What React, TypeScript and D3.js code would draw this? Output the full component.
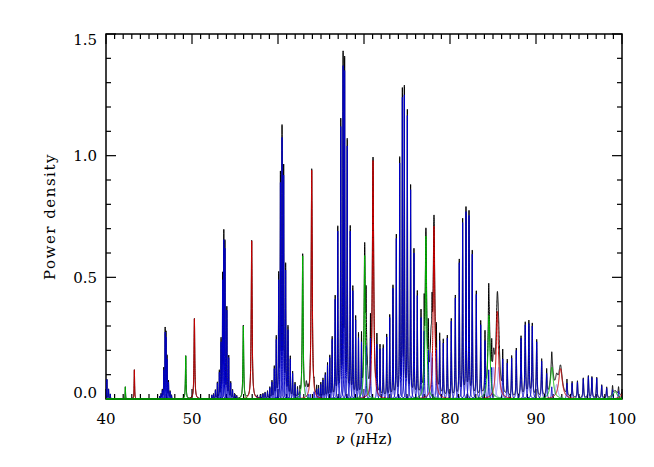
import React, { useMemo } from "react";
import * as d3 from "d3";

// ---------- data ----------
const X_DOMAIN: [number, number] = [40, 100];
const Y_DOMAIN: [number, number] = [0, 1.5];
const X_TICKS = [40, 50, 60, 70, 80, 90, 100];
const Y_TICKS = [0, 0.5, 1.0, 1.5];
const X_TICK_LABELS = ["40", "50", "60", "70", "80", "90", "100"];
const Y_TICK_LABELS = ["0.0", "0.5", "1.0", "1.5"];

// radial (l=0) modes: [frequency µHz, height, half width µHz]
const l0Modes: [number, number, number][] = [
  [43.3, 0.12, 0.03], [50.28, 0.33, 0.05], [56.94, 0.65, 0.06], [63.92, 0.94, 0.07],
  [71.05, 0.98, 0.09], [78.14, 0.71, 0.11], [85.5, 0.36, 0.16], [92.85, 0.125, 0.25],
  [100.2, 0.03, 0.3],
];

// quadrupole (l=2) modes
const l2Modes: [number, number, number][] = [
  [42.25, 0.05, 0.025], [49.27, 0.177, 0.04], [55.97, 0.30, 0.05], [62.87, 0.588, 0.06],
  [70.08, 0.59, 0.08], [77.2, 0.67, 0.1], [84.53, 0.345, 0.14], [91.85, 0.13, 0.2],
  [99.2, 0.03, 0.3],
];

// octupole (l=3) modes
const l3Modes: [number, number, number][] = [
  [63.3, 0.05, 0.1], [70.3, 0.14, 0.12], [77.8, 0.19, 0.14], [85.08, 0.13, 0.14],
  [85.66, 0.13, 0.14], [92.4, 0.06, 0.18],
];

// dipole (l=1) mixed modes
const l1Modes: [number, number, number][] = [
  [39.85, 0.04, 0.025], [40.1, 0.08, 0.025], [40.3, 0.04, 0.025], [40.5, 0.02, 0.025],
  [46.25, 0.01, 0.025], [46.4, 0.02, 0.025], [46.55, 0.035, 0.025], [46.72, 0.12, 0.025],
  [46.88, 0.275, 0.025], [46.98, 0.255, 0.025], [47.1, 0.165, 0.025], [47.27, 0.07, 0.025],
  [47.45, 0.03, 0.025], [47.62, 0.015, 0.025],
  [52.3, 0.015, 0.025], [52.5, 0.02, 0.025], [52.72, 0.035, 0.025], [52.95, 0.065, 0.025],
  [53.18, 0.11, 0.025], [53.38, 0.235, 0.025], [53.56, 0.49, 0.025], [53.7, 0.655, 0.025],
  [53.83, 0.62, 0.025], [54.05, 0.365, 0.025], [54.27, 0.17, 0.025], [54.5, 0.066, 0.025],
  [54.72, 0.035, 0.025], [54.95, 0.02, 0.025], [55.2, 0.012, 0.025],
  [57.6, 0.01, 0.03], [57.95, 0.015, 0.03], [58.25, 0.02, 0.03],
  [58.5, 0.025, 0.03], [58.78, 0.03, 0.03], [59.05, 0.045, 0.03], [59.3, 0.07, 0.03],
  [59.57, 0.125, 0.03], [59.8, 0.245, 0.03], [60.08, 0.49, 0.03], [60.28, 0.89, 0.03],
  [60.47, 1.075, 0.03], [60.66, 0.92, 0.03], [60.89, 0.53, 0.03], [61.16, 0.285, 0.03],
  [61.43, 0.165, 0.03], [61.7, 0.105, 0.03], [61.98, 0.06, 0.03], [62.27, 0.04, 0.03],
  [62.55, 0.03, 0.03], [63.5, 0.02, 0.03],
  [63.75, 0.02, 0.03], [64.2, 0.03, 0.03], [64.5, 0.04, 0.03], [64.72, 0.045, 0.03],
  [64.98, 0.06, 0.03], [65.23, 0.078, 0.03], [65.5, 0.1, 0.03], [65.76, 0.14, 0.03],
  [66.02, 0.17, 0.03], [66.3, 0.245, 0.03], [66.65, 0.41, 0.03], [66.95, 0.69, 0.03],
  [67.3, 1.12, 0.03], [67.57, 1.37, 0.03], [67.75, 1.35, 0.03], [68.05, 1.04, 0.03],
  [68.4, 0.69, 0.03], [68.7, 0.445, 0.03], [69.03, 0.325, 0.03], [69.36, 0.252, 0.03],
  [69.71, 0.235, 0.03], [70.24, 0.22, 0.03], [70.75, 0.25, 0.03],
  [71.5, 0.225, 0.03], [71.86, 0.205, 0.03], [72.24, 0.21, 0.03], [72.64, 0.255, 0.03],
  [72.99, 0.335, 0.03], [73.37, 0.455, 0.03], [73.76, 0.66, 0.03], [74.15, 0.97, 0.03],
  [74.46, 1.24, 0.03], [74.69, 1.25, 0.03], [75.04, 1.165, 0.03], [75.42, 0.86, 0.03],
  [75.81, 0.6, 0.03], [76.2, 0.425, 0.03], [76.63, 0.335, 0.03], [77.0, 0.28, 0.03],
  [77.48, 0.2, 0.035], [77.92, 0.17, 0.035], [78.42, 0.2, 0.035],
  [78.8, 0.24, 0.035], [79.22, 0.23, 0.035], [79.69, 0.25, 0.035], [80.15, 0.32, 0.035],
  [80.62, 0.415, 0.035], [81.08, 0.56, 0.035], [81.47, 0.725, 0.035], [81.86, 0.77, 0.035],
  [82.21, 0.755, 0.035], [82.59, 0.595, 0.035], [83.06, 0.43, 0.035], [83.57, 0.305, 0.035],
  [84.07, 0.24, 0.035], [84.5, 0.12, 0.035], [84.85, 0.13, 0.035],
  [86.13, 0.165, 0.04], [86.66, 0.148, 0.04], [87.17, 0.168, 0.04], [87.71, 0.2, 0.04],
  [88.26, 0.25, 0.05], [88.75, 0.305, 0.05], [89.17, 0.31, 0.05], [89.57, 0.3, 0.05],
  [90.08, 0.235, 0.05], [90.66, 0.155, 0.05], [91.24, 0.105, 0.05], [91.83, 0.05, 0.05],
  [93.6, 0.065, 0.05], [94.2, 0.065, 0.05], [94.82, 0.07, 0.05], [95.5, 0.083, 0.05],
  [96.09, 0.092, 0.05], [96.5, 0.088, 0.05], [97.06, 0.086, 0.05], [97.64, 0.055, 0.05],
  [98.22, 0.045, 0.05], [98.9, 0.038, 0.05], [99.6, 0.033, 0.05],
];

// ---------- layout ----------
const W = 654;
const H = 467;
const PLOT = { left: 106, top: 34, right: 622, bottom: 399 };
const FONT = "'DejaVu Serif', serif";

type Mode = [number, number, number];
const lor = (nu: number, m: Mode) => {
  const d = (nu - m[0]) / m[2];
  return m[1] / (1 + d * d);
};

function gridAround(lo: number, hi: number, step: number, centers: number[]) {
  const pts: number[] = [];
  const n = Math.round((hi - lo) / step);
  for (let i = 0; i <= n; i++) pts.push(lo + i * step);
  centers.forEach((c) => { if (c >= lo && c <= hi) pts.push(c); });
  return pts.sort((a, b) => a - b);
}

export default function App() {
  const x = d3.scaleLinear().domain(X_DOMAIN).range([PLOT.left, PLOT.right]);
  const y = d3.scaleLinear().domain(Y_DOMAIN).range([PLOT.bottom, PLOT.top]);
  const line = d3.line<[number, number]>().x((d) => x(d[0])).y((d) => y(d[1]));

  const paths = useMemo(() => {
    const all: Mode[] = [...l0Modes, ...l1Modes, ...l2Modes, ...l3Modes];
    const fullGrid = gridAround(39.5, 100.5, 0.004, all.map((m) => m[0]));
    const total = line(fullGrid.map((nu) => [nu, all.reduce((s, m) => s + lor(nu, m), 0)] as [number, number])) || "";
    const local = (m: Mode, span: number) => {
      const g = gridAround(m[0] - span, m[0] + span, 0.004, [m[0]]);
      return line(g.map((nu) => [nu, lor(nu, m)] as [number, number])) || "";
    };
    const full = (m: Mode) => line(fullGrid.map((nu) => [nu, lor(nu, m)] as [number, number])) || "";
    return {
      total,
      l1: l1Modes.map((m) => local(m, 3)),
      l3: l3Modes.map((m) => local(m, 4)),
      l0: l0Modes.map(full),
      l2: l2Modes.map(full),
    };
  }, []);

  const xMinor = d3.range(40, 101, 1);
  const yMinor = d3.range(0, 1.5001, 0.1);

  return (
    <svg width={W} height={H} style={{ position: "absolute", left: 0, top: 0, background: "#fff" }}>
      <defs>
        <clipPath id="plotclip">
          <rect x={PLOT.left} y={PLOT.top - 1} width={PLOT.right - PLOT.left} height={PLOT.bottom - PLOT.top + 2} />
        </clipPath>
      </defs>
      {/* frame */}
      <rect x={PLOT.left} y={PLOT.top} width={PLOT.right - PLOT.left} height={PLOT.bottom - PLOT.top}
        fill="none" stroke="#000" strokeWidth={1.5} />
      {/* ticks */}
      {xMinor.map((v) => {
        const major = v % 10 === 0;
        const len = major ? 10 : 5;
        return (
          <g key={"xt" + v}>
            <line x1={x(v)} x2={x(v)} y1={PLOT.bottom} y2={PLOT.bottom - len} stroke="#000" strokeWidth={1.2} />
            <line x1={x(v)} x2={x(v)} y1={PLOT.top} y2={PLOT.top + len} stroke="#000" strokeWidth={1.2} />
          </g>
        );
      })}
      {yMinor.map((v, i) => {
        const major = i % 5 === 0;
        const len = major ? 10 : 5;
        return (
          <g key={"yt" + i}>
            <line x1={PLOT.left} x2={PLOT.left + len} y1={y(v)} y2={y(v)} stroke="#000" strokeWidth={1.2} />
            <line x1={PLOT.right} x2={PLOT.right - len} y1={y(v)} y2={y(v)} stroke="#000" strokeWidth={1.2} />
          </g>
        );
      })}
      {/* curves */}
      <g clipPath="url(#plotclip)" fill="none" strokeWidth={1}>
        <path d={paths.total} stroke="#000" />
        {paths.l1.map((d, i) => <path key={"b" + i} d={d} stroke="#0000c8" />)}
        {paths.l3.map((d, i) => <path key={"c" + i} d={d} stroke="#9a9aff" />)}
        {paths.l0.map((d, i) => <path key={"r" + i} d={d} stroke="#c80000" />)}
        {paths.l2.map((d, i) => <path key={"g" + i} d={d} stroke="#00b400" />)}
      </g>
      {/* tick labels */}
      {X_TICKS.map((v, i) => (
        <text key={"xl" + v} x={x(v)} y={PLOT.bottom + 25} textAnchor="middle" fontFamily={FONT} fontSize={15} fill="#000">
          {X_TICK_LABELS[i]}
        </text>
      ))}
      {Y_TICKS.map((v, i) => {
        const yy = Math.min(Math.max(y(v), PLOT.top + 6), PLOT.bottom - 6);
        return (
          <text key={"yl" + v} x={PLOT.left - 9} y={yy} dy="0.35em" textAnchor="end" fontFamily={FONT} fontSize={15} fill="#000">
            {Y_TICK_LABELS[i]}
          </text>
        );
      })}
      {/* axis titles */}
      <text x={(PLOT.left + PLOT.right) / 2} y={444} textAnchor="middle" fontFamily={FONT} fontSize={15} fill="#000">
        <tspan fontStyle="italic">ν</tspan>
        <tspan> (</tspan>
        <tspan fontStyle="italic">μ</tspan>
        <tspan>Hz)</tspan>
      </text>
      <text transform={`translate(55, ${(PLOT.top + PLOT.bottom) / 2}) rotate(-90)`} textAnchor="middle"
        fontFamily={FONT} fontSize={15} letterSpacing={1.5} fill="#000">
        Power density
      </text>
    </svg>
  );
}
